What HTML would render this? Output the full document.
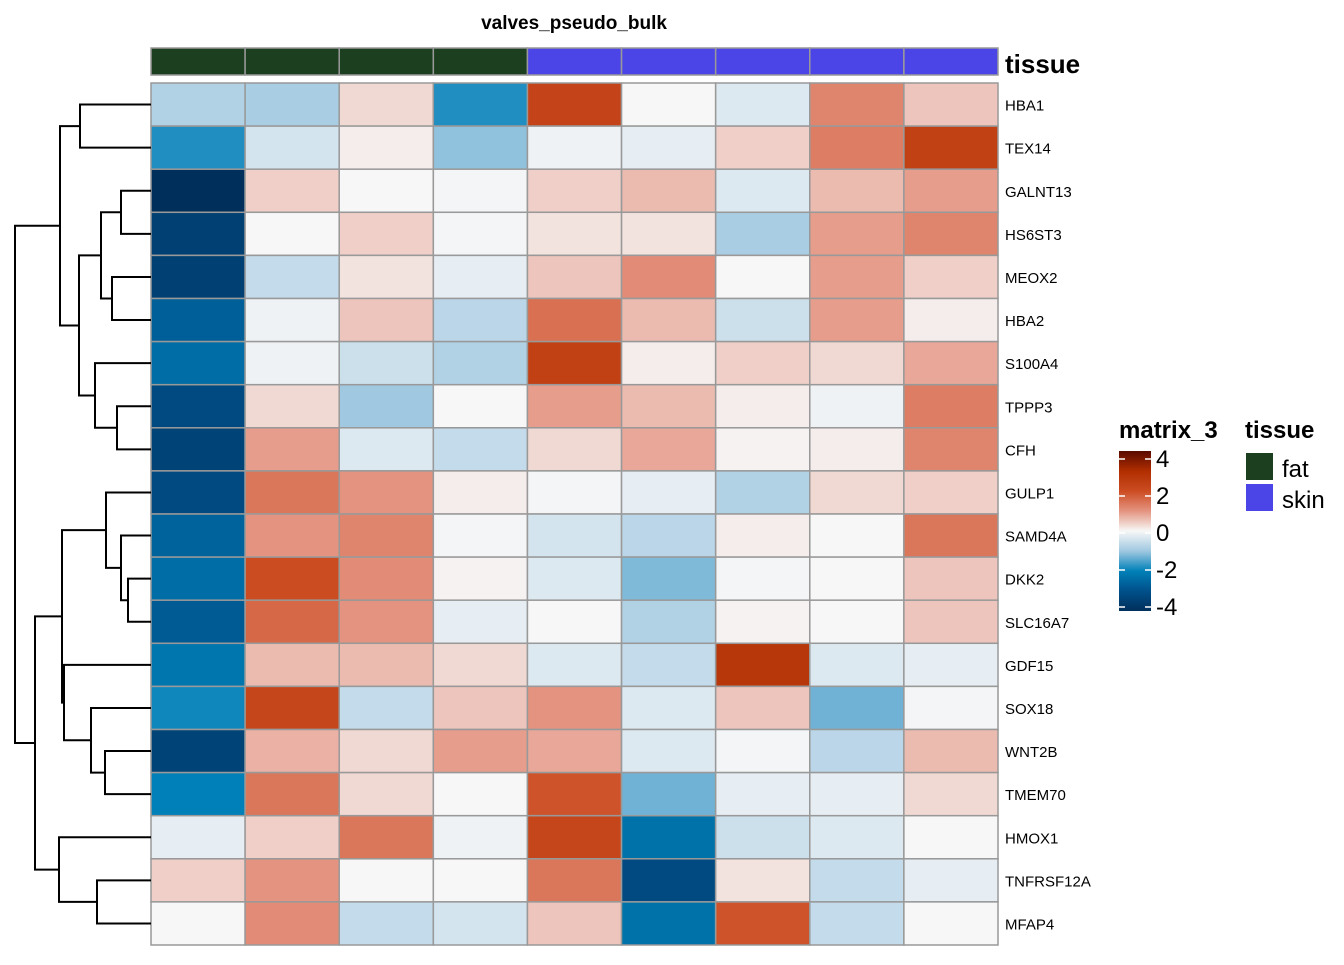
<!DOCTYPE html>
<html><head><meta charset="utf-8"><style>
body{margin:0;background:#fff;font-family:"Liberation Sans",sans-serif}
</style></head><body>
<svg id="chart" width="1344" height="960" xmlns="http://www.w3.org/2000/svg" font-family="Liberation Sans, sans-serif">
<defs><linearGradient id="cb" x1="0" y1="1" x2="0" y2="0">
<stop offset="0" stop-color="#002f5b"/><stop offset="0.125" stop-color="#00508a"/><stop offset="0.25" stop-color="#0080b8"/><stop offset="0.375" stop-color="#a0c8e1"/><stop offset="0.5" stop-color="#f7f7f7"/><stop offset="0.625" stop-color="#e49380"/><stop offset="0.75" stop-color="#cc4c22"/><stop offset="0.875" stop-color="#b02e00"/><stop offset="1" stop-color="#5a0a00"/></linearGradient></defs>
<text x="574" y="29" font-size="19" font-weight="bold" text-anchor="middle">valves_pseudo_bulk</text>
<g id="anno"></g><g id="cells"></g><g id="labels"></g><g id="dendro"></g>
<text x="1005" y="73" font-size="26" font-weight="bold">tissue</text>
<g>
<text x="1119" y="438" font-size="24" font-weight="bold">matrix_3</text>
<rect x="1119" y="451" width="32" height="160" fill="url(#cb)"/>
<g stroke="#fff" stroke-width="1.5"><line x1="1119" y1="459" x2="1125" y2="459"/><line x1="1145" y1="459" x2="1151" y2="459"/><line x1="1119" y1="496" x2="1125" y2="496"/><line x1="1145" y1="496" x2="1151" y2="496"/><line x1="1119" y1="533" x2="1125" y2="533"/><line x1="1145" y1="533" x2="1151" y2="533"/><line x1="1119" y1="570" x2="1125" y2="570"/><line x1="1145" y1="570" x2="1151" y2="570"/><line x1="1119" y1="607" x2="1125" y2="607"/><line x1="1145" y1="607" x2="1151" y2="607"/></g>
<g font-size="24"><text x="1156" y="467">4</text><text x="1156" y="504">2</text><text x="1156" y="541">0</text><text x="1156" y="578">-2</text><text x="1156" y="615">-4</text></g>
</g>
<g>
<text x="1245" y="438" font-size="24" font-weight="bold">tissue</text>
<rect x="1246" y="453" width="27" height="27" fill="#1c3f1f"/>
<rect x="1246" y="484" width="27" height="27" fill="#4b44e6"/>
<text x="1282" y="477" font-size="24">fat</text><text x="1282" y="508" font-size="24">skin</text>
</g>
</svg>
<script>
const rows=["HBA1","TEX14","GALNT13","HS6ST3","MEOX2","HBA2","S100A4","TPPP3","CFH","GULP1","SAMD4A","DKK2","SLC16A7","GDF15","SOX18","WNT2B","TMEM70","HMOX1","TNFRSF12A","MFAP4"];
const tissue=["fat","fat","fat","fat","skin","skin","skin","skin","skin"];
const values=[
[-0.8,-0.9,0.3,-1.8,2.3,0.0,-0.3,1.2,0.5],
[-1.8,-0.4,0.1,-1.1,-0.1,-0.2,0.4,1.3,2.4],
[-4,0.4,0,-0.05,0.4,0.6,-0.3,0.6,0.9],
[-3.5,0,0.4,-0.05,0.2,0.2,-0.9,0.9,1.2],
[-3.5,-0.6,0.2,-0.2,0.5,1.1,0,0.9,0.4],
[-2.7,-0.1,0.5,-0.7,1.5,0.6,-0.5,0.9,0.1],
[-2.4,-0.1,-0.5,-0.8,2.4,0.1,0.4,0.3,0.8],
[-3.2,0.3,-1.0,0,0.9,0.6,0.1,-0.1,1.3],
[-3.4,0.9,-0.3,-0.6,0.3,0.8,0.05,0.1,1.2],
[-3.2,1.4,1.0,0.1,-0.05,-0.2,-0.8,0.3,0.4],
[-2.6,1.0,1.2,-0.05,-0.4,-0.7,0.1,0,1.4],
[-2.4,2.0,1.1,0.05,-0.3,-1.2,-0.05,0,0.5],
[-2.8,1.6,1.0,-0.2,0,-0.8,0.05,0,0.5],
[-2.2,0.6,0.6,0.3,-0.3,-0.6,2.7,-0.3,-0.2],
[-1.9,2.2,-0.6,0.5,1.0,-0.3,0.5,-1.3,-0.05],
[-3.4,0.7,0.3,0.9,0.8,-0.3,-0.05,-0.7,0.6],
[-2.0,1.4,0.3,0,1.9,-1.3,-0.2,-0.2,0.3],
[-0.2,0.4,1.4,-0.1,2.2,-2.3,-0.5,-0.3,0],
[0.4,1.0,0,0,1.4,-3.2,0.2,-0.6,-0.2],
[0,1.1,-0.6,-0.4,0.5,-2.3,1.9,-0.6,0]];
// dendrogram nodes: [left, right, mergeX]
const nD=[["GALNT13","HS6ST3",121],["MEOX2","HBA2",112],101];
const nE=["S100A4",["TPPP3","CFH",117],95];
const nA=[["HBA1","TEX14",80],[nD,nE,79],60];
const nH=["GULP1",["SAMD4A",["DKK2","SLC16A7",128],121],106];
const nI=["GDF15",["SOX18",["WNT2B","TMEM70",105],91],64];
const nG=["HMOX1",["TNFRSF12A","MFAP4",97],59];
const nB=[[nH,nI,62],nG,35];
const tree=[nA,nB,15];
const X0=151,X1=998,Y0=83,Y1=945,nc=9,nr=20,cw=(X1-X0)/nc,rh=(Y1-Y0)/nr;
const ns="http://www.w3.org/2000/svg";
const stops=[[-4,[0,47,91]],[-3,[0,80,138]],[-2,[0,128,184]],[-1,[160,200,225]],[0,[247,247,247]],[1,[228,147,128]],[2,[204,76,34]],[3,[176,46,0]],[4,[90,10,0]]];
function col(v){v=Math.max(-4,Math.min(4,v));for(let i=0;i<stops.length-1;i++){const a=stops[i],b=stops[i+1];if(v<=b[0]){const t=(v-a[0])/(b[0]-a[0]);return "rgb("+a[1].map((c,k)=>Math.round(c+(b[1][k]-c)*t)).join(",")+")";}}return "rgb(90,10,0)";}
function mk(t,at,p){const e=document.createElementNS(ns,t);for(const k in at)e.setAttribute(k,at[k]);p.appendChild(e);return e;}
const anno=document.getElementById("anno"),cells=document.getElementById("cells"),labels=document.getElementById("labels"),dendro=document.getElementById("dendro");
tissue.forEach((t,j)=>{const r=mk("rect",{x:X0+j*cw,y:48,width:cw,height:27,fill:t=="fat"?"#1c3f1f":"#4b44e6",stroke:"#999","stroke-width":1.5},anno);

});
values.forEach((row,i)=>{row.forEach((v,j)=>{const r=mk("rect",{x:X0+j*cw,y:Y0+i*rh,width:cw,height:rh,fill:col(v),stroke:"#999","stroke-width":1.5},cells);

});
const t=mk("text",{x:1005,y:Y0+(i+0.5)*rh+6,"font-size":15},labels);t.textContent=rows[i];

});
function draw(n){if(typeof n==="string")return {y:Y0+(rows.indexOf(n)+0.5)*rh,x:X0};
const a=draw(n[0]),b=draw(n[1]),x=n[2];
const p=mk("path",{d:`M${a.x},${a.y}H${x}V${b.y}H${b.x}`,fill:"none",stroke:"#000","stroke-width":2},dendro);


return {x:x,y:(a.y+b.y)/2};}
draw(tree);
</script>
</body></html>
